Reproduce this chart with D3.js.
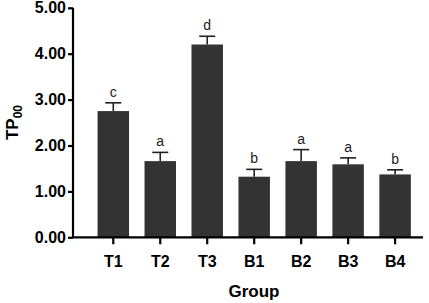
<!DOCTYPE html>
<html lang="en">
<head>
    <meta charset="UTF-8">
    <title>TP00 by group</title>
    <script src="https://d3js.org/d3.v7.min.js"></script>
    <style>
        body { margin: 0; background: #fff; }
        text { font-family: "Liberation Sans", Arial, sans-serif; }
    </style>
</head>
<body>
    <svg id="chart" width="429" height="303"></svg>

    <script>
        // data
        const groups = ["T1", "T2", "T3", "B1", "B2", "B3", "B4"];
        const means = [2.75, 1.66, 4.20, 1.32, 1.66, 1.59, 1.37];
        const errors = [0.18, 0.19, 0.18, 0.16, 0.25, 0.14, 0.10];
        const letters = ["c", "a", "d", "b", "a", "a", "b"];
        const yTicks = [0, 1, 2, 3, 4, 5];

        const axisX = 73, axisRight = 423;
        const plotTop = 7.8, plotBottom = 237.3;

        const svg = d3.select("#chart");

        const y = d3.scaleLinear()
            .domain([0, 5])
            .range([plotBottom, plotTop]);

        const x = d3.scaleBand()
            .domain(groups)
            .range([89.8, 418.6])
            .paddingInner(0.33)
            .paddingOuter(0.165);

        const bw = x.bandwidth();
        const capW = 16;

        // bars
        svg.append("g").selectAll("rect")
            .data(groups)
            .join("rect")
            .attr("x", d => x(d))
            .attr("y", (d, i) => y(means[i]))
            .attr("width", bw)
            .attr("height", (d, i) => y(0) - y(means[i]))
            .attr("fill", "#333333");

        // error bars (upper only)
        const err = svg.append("g")
            .attr("stroke", "#222")
            .attr("stroke-width", 1.6);
        groups.forEach((g, i) => {
            const cx = x(g) + bw / 2;
            err.append("line")
                .attr("x1", cx).attr("x2", cx)
                .attr("y1", y(means[i])).attr("y2", y(means[i] + errors[i]));
            err.append("line")
                .attr("x1", cx - capW / 2).attr("x2", cx + capW / 2)
                .attr("y1", y(means[i] + errors[i])).attr("y2", y(means[i] + errors[i]));
        });

        // significance letters
        svg.append("g").selectAll("text")
            .data(groups)
            .join("text")
            .attr("x", d => x(d) + bw / 2)
            .attr("y", (d, i) => y(means[i] + errors[i]) - 6)
            .attr("text-anchor", "middle")
            .attr("font-size", 14)
            .attr("fill", "#1a1a1a")
            .text((d, i) => letters[i]);

        // y axis
        const yAxis = svg.append("g")
            .attr("transform", `translate(${axisX},0)`)
            .call(d3.axisLeft(y).tickValues(yTicks).tickFormat(d3.format(".2f")).tickSize(5).tickPadding(2));
        yAxis.select(".domain").attr("stroke-width", 2.2).attr("d", `M0,${plotTop}V${plotBottom}`);
        yAxis.selectAll(".tick line").attr("stroke-width", 2.2);
        yAxis.selectAll(".tick text")
            .attr("font-size", 16)
            .attr("font-weight", "bold")
            .attr("font-family", "Liberation Sans, Arial, sans-serif")
            .attr("fill", "#000");

        // x axis
        const xAxis = svg.append("g")
            .attr("transform", `translate(0,${plotBottom})`)
            .call(d3.axisBottom(x).tickSize(7).tickPadding(6));
        xAxis.select(".domain").attr("stroke-width", 2.2).attr("d", `M${axisX - 1},0H${axisRight}`);
        xAxis.selectAll(".tick line").attr("stroke-width", 2.2);
        xAxis.selectAll(".tick text")
            .attr("y", 29.5)
            .attr("dy", null)
            .attr("font-size", 16)
            .attr("font-weight", "bold")
            .attr("font-family", "Liberation Sans, Arial, sans-serif")
            .attr("fill", "#000");

        // axis titles
        svg.append("text")
            .attr("x", 254)
            .attr("y", 297)
            .attr("text-anchor", "middle")
            .attr("font-size", 17)
            .attr("font-weight", "bold")
            .text("Group");

        const yt = svg.append("text")
            .attr("transform", `translate(18,${(plotTop + plotBottom) / 2}) rotate(-90)`)
            .attr("text-anchor", "middle")
            .attr("font-size", 17)
            .attr("font-weight", "bold");
        yt.append("tspan").text("TP");
        yt.append("tspan").attr("font-size", 12).attr("dy", 4).text("00");
    </script>
</body>
</html>
